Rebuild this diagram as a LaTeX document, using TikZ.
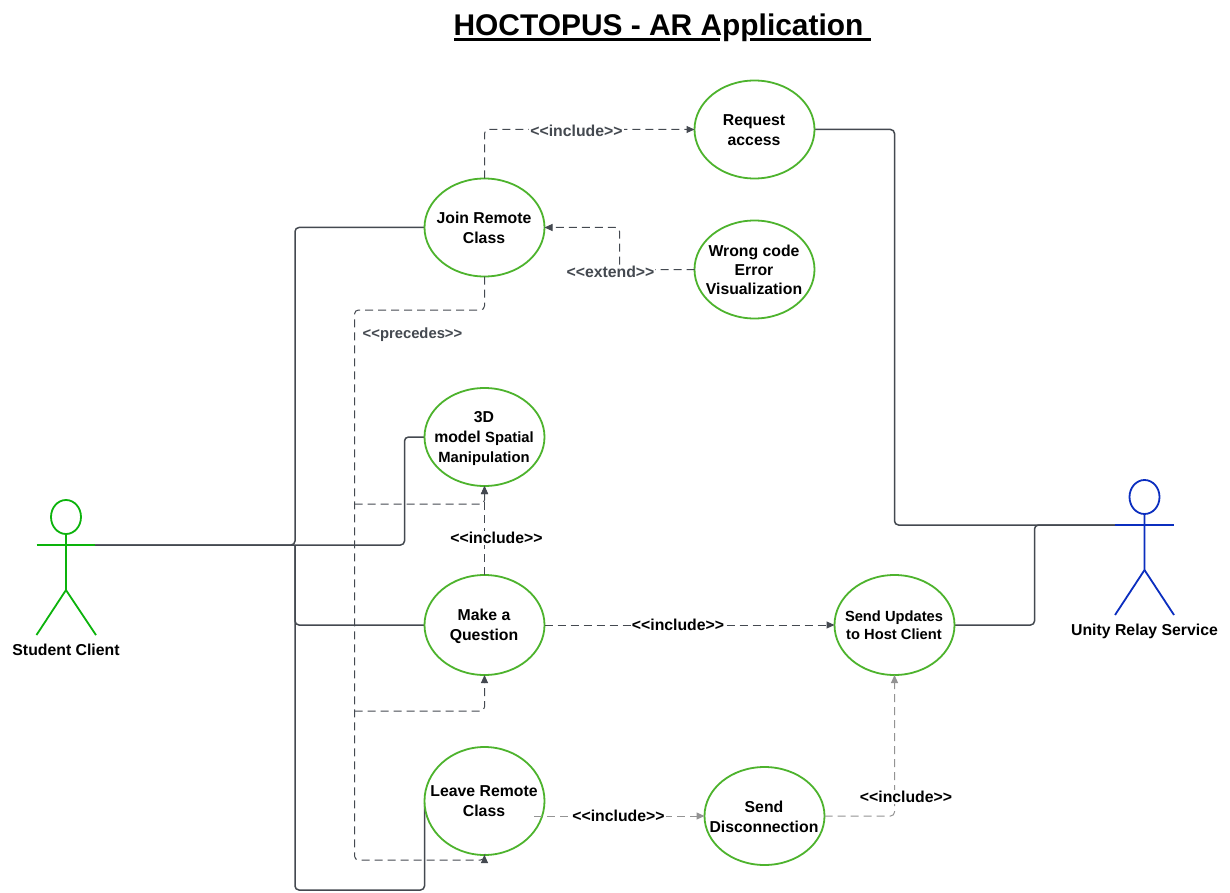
\documentclass[tikz,border=0pt]{standalone}
\usepackage{fontspec}
\setmainfont{Liberation Sans}
\usetikzlibrary{shapes.geometric,arrows.meta}
\definecolor{edgec}{HTML}{444950}
\definecolor{ucg}{HTML}{4DB32D}
\definecolor{stug}{HTML}{0CB30C}
\definecolor{relayb}{HTML}{0B2EBF}
\tikzset{
  uc/.style={ellipse,draw=ucg,line width=1.8pt,fill=white,minimum width=120pt,minimum height=98pt,inner sep=0pt,outer sep=0pt},
  uctext/.style={font=\fontsize{15.8}{20}\selectfont\bfseries,align=center,text=black,inner sep=0pt},
  conn/.style={draw=edgec,line width=1.5pt,rounded corners=4pt},
  dep/.style={draw=edgec,line width=1pt,dash pattern=on 8pt off 5pt,rounded corners=4pt},
  depl/.style={draw=gray!85,line width=1pt,dash pattern=on 8pt off 5pt,rounded corners=4pt},
  tip/.style={-{Triangle[length=8pt,width=7pt]}},
  rel/.style={font=\fontsize{15.8}{18}\selectfont\bfseries,text=black,fill=white,inner sep=1pt},
  relg/.style={rel,text=edgec},
  actorS/.style={draw=stug,line width=1.8pt},
  actorR/.style={draw=relayb,line width=1.8pt},
  actl/.style={font=\fontsize{15.8}{18}\selectfont\bfseries,text=black,inner sep=0pt}
}
\begin{document}
\begin{tikzpicture}[x=1pt,y=-1pt]
\useasboundingbox (0,0) rectangle (1230,893);
\fill[white] (0,0) rectangle (1230,893);
\node[font=\fontsize{29.9}{32}\selectfont\bfseries,inner sep=0pt] (title) at (658.5,28) {HOCTOPUS - AR Application};
\coordinate (ulA) at (454,39.5);
\coordinate (ulB) at (720,39.5);
\coordinate (ulC) at (750,39.5);
\coordinate (ulD) at (871,39.5);
\draw[line width=2.2pt] (ulA) -- (ulB);
\draw[line width=2.2pt] (ulC) -- (ulD);
% junctions
\coordinate (sc) at (95,545);
\coordinate (rc) at (1115,525);
\coordinate (bus) at (295,545);
\coordinate (bus3d) at (404.5,545);
\coordinate (busbot) at (295,890);
\coordinate (leavebot) at (424.5,890);
\coordinate (prA) at (484.5,310);
\coordinate (prB) at (354.5,310);
\coordinate (prC) at (354.5,860);
\coordinate (prD) at (484.5,860);
\coordinate (prE) at (354.5,504);
\coordinate (prF) at (484.5,504);
\coordinate (prG) at (354.5,711);
\coordinate (prH) at (484.5,711);
\coordinate (reqA) at (894.5,129.5);
\coordinate (reqB) at (894.5,525);
\coordinate (updA) at (1034.5,625);
\coordinate (updB) at (1034.5,525);
\coordinate (joinA) at (484.5,129.5);
\coordinate (wrongA) at (619.5,269.5);
\coordinate (wrongB) at (619.5,227.5);
\coordinate (leaveE) at (534,816);
\coordinate (discB) at (894.5,816);
% solid connectors
\draw[conn] (sc) -- (bus) |- (424,227.5) coordinate (joinW);
\draw[conn] (sc) -- (bus3d) |- (424,437) coordinate (modelW);
\draw[conn] (bus) |- (424,625) coordinate (makeW);
\draw[conn] (bus) -- (busbot) -- (leavebot) -- (424.5,803) coordinate (leaveW);
\draw[conn] (814,129.5) coordinate (reqE) -- (reqA) -- (reqB) -- (rc);
\draw[conn] (954,625) coordinate (updE) -- (updA) -- (updB) -- (rc);
% use cases
\node[uc] (join) at (484.5,227.5) {};
\node[uc] (request) at (754.5,129.5) {};
\node[uc] (wrong) at (754.5,269.5) {};
\node[uc] (model) at (484.5,437) {};
\node[uc,minimum height=100pt] (make) at (484.5,625) {};
\node[uc,minimum height=108pt] (leave) at (484.5,801) {};
\node[uc,minimum height=100pt] (update) at (894.5,625) {};
\node[uc] (disc) at (764.5,816) {};
% dashed connectors
\draw[dep,tip] (join.north) -- (joinA) -- (request.west);
\draw[dep,tip] (wrong.west) -- (wrongA) -- (wrongB) -- (join.east);
\draw[dep,tip] (join.south) -- (prA) -- (prB) -- (prC) -- (prD) -- (leave.south);
\draw[dep,tip] (prE) -- (prF) -- (model.south);
\draw[dep,tip] (prG) -- (prH) -- (make.south);
\draw[dep,tip] (make.north) -- (model.south);
\draw[dep,tip] (make.east) -- (update.west);
\draw[depl,tip] (leaveE) -- (disc.west);
\draw[depl,tip] (disc.east) -- (discB) -- (update.south);
% use case texts
\node[uctext] (joinT) at (484,227.5) {Join Remote\\Class};
\node[uctext] (requestT) at (754,130.5) {Request\\access};
\node[uctext,font=\fontsize{15.8}{19}\selectfont\bfseries] (wrongT) at (754,269.5) {Wrong code\\Error\\Visualization};
\node[uctext] (modelT) at (484,439) {3D\\model {\fontsize{14.8}{20}\selectfont Spatial}\\{\fontsize{14.8}{19}\selectfont Manipulation}};
\node[uctext] (makeT) at (484,626) {Make a\\Question};
\node[uctext] (leaveT) at (484,801.5) {Leave Remote\\Class};
\node[uctext,font=\fontsize{14.7}{18}\selectfont\bfseries] (updateT) at (894,625) {Send Updates\\to Host Client};
\node[uctext] (discT) at (764,816.5) {Send\\Disconnection};
% relation labels
\node[relg] (l1) at (576.5,131) {<{}<include>{}>};
\node[relg] (l2) at (610.5,272) {<{}<extend>{}>};
\node[relg,font=\fontsize{14.8}{16}\selectfont\bfseries,fill=none] (l3) at (412.5,334.5) {<{}<precedes>{}>};
\node[rel] (l4) at (496.5,538) {<{}<include>{}>};
\node[rel] (l5) at (678,625) {<{}<include>{}>};
\node[rel] (l6) at (618.5,816) {<{}<include>{}>};
\node[rel] (l7) at (906,797) {<{}<include>{}>};
% student actor
\draw[actorS] (66,517) ellipse [x radius=15,y radius=17];
\draw[actorS] (66,534) -- (66,590) -- (36.5,635);
\draw[actorS] (66,590) -- (96,635);
\draw[actorS] (36.5,545) -- (sc);
\node[actl] (student) at (66,650) {Student Client};
% relay actor
\draw[actorR] (1144.5,497) ellipse [x radius=15,y radius=17];
\draw[actorR] (1144.5,514) -- (1144.5,570) -- (1115,615);
\draw[actorR] (1144.5,570) -- (1174,615);
\draw[actorR] (rc) -- (1174,525);
\node[actl] (relay) at (1144.5,631) {Unity Relay Service};
\end{tikzpicture}
\end{document}
